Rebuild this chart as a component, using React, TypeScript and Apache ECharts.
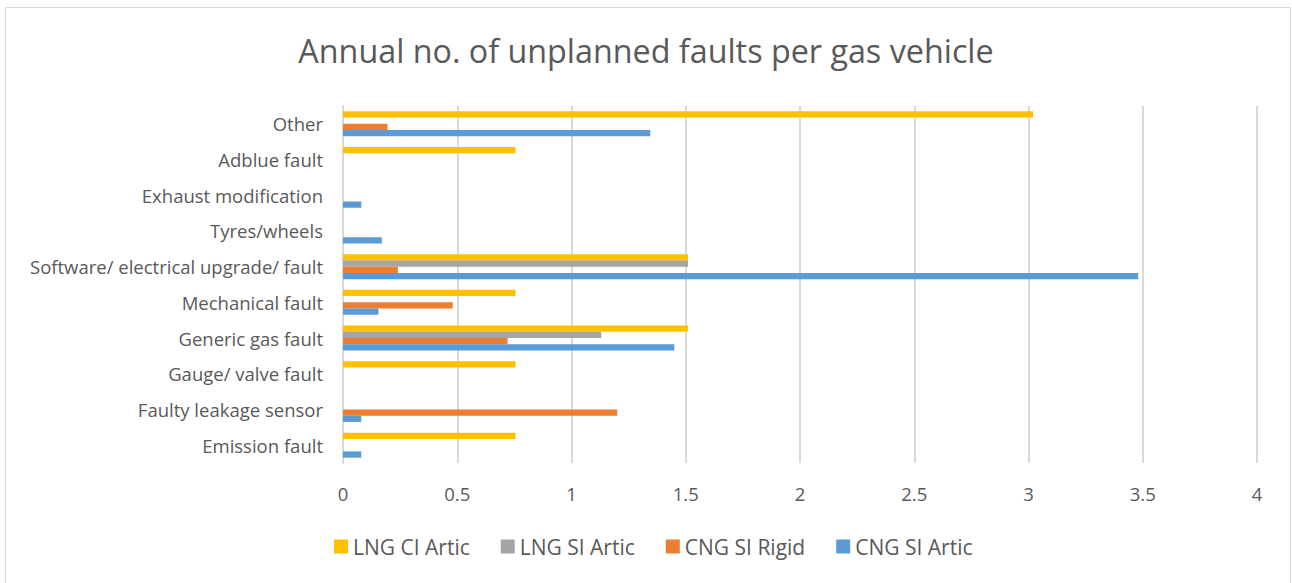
import React, { useEffect, useRef } from "react";
import * as echarts from "echarts";

const categories = [
  "Emission fault",
  "Faulty leakage sensor",
  "Gauge/ valve fault",
  "Generic gas fault",
  "Mechanical fault",
  "Software/ electrical upgrade/ fault",
  "Tyres/wheels",
  "Exhaust modification",
  "Adblue fault",
  "Other",
];

const lngCiArtic = [0.755, 0, 0.755, 1.51, 0.755, 1.51, 0, 0, 0.755, 3.02];
const lngSiArtic = [0, 0, 0, 1.13, 0, 1.51, 0, 0, 0, 0];
const cngSiRigid = [0, 1.2, 0, 0.72, 0.48, 0.24, 0, 0, 0, 0.195];
const cngSiArtic = [0.08, 0.08, 0, 1.45, 0.155, 3.48, 0.17, 0.08, 0, 1.345];

const seriesNames = ["LNG CI Artic", "LNG SI Artic", "CNG SI Rigid", "CNG SI Artic"];
const seriesColors = ["#FFC000", "#A5A5A5", "#ED7D31", "#5B9BD5"];
const seriesData = [lngCiArtic, lngSiArtic, cngSiRigid, cngSiArtic];

const FONT = "Open Sans";

export default function App() {
  const ref = useRef<HTMLDivElement>(null);
  useEffect(() => {
    if (!ref.current) return;
    const chart = echarts.init(ref.current, null, { renderer: "svg" });
    chart.setOption({
      animation: false,
      backgroundColor: "#ffffff",
      title: {
        text: "Annual no. of unplanned faults per gas vehicle",
        left: "center",
        top: 29,
        textStyle: { fontFamily: FONT, fontSize: 32.3, fontWeight: "normal", color: "#595959" },
      },
      graphic: [
        {
          type: "rect",
          shape: { x: 5.5, y: 7.5, width: 1285, height: 600 },
          style: { fill: "none", stroke: "#d9d9d9", lineWidth: 1 },
          silent: true,
        },
      ],
      legend: {
        data: seriesNames,
        left: 329,
        top: 531,
        itemWidth: 14,
        itemHeight: 14,
        itemGap: 31,
        icon: "rect",
        textStyle: { fontFamily: FONT, fontSize: 21, color: "#595959", padding: [0, 0, 0, 0] },
      },
      grid: { left: 343, right: 35, top: 106, bottom: 120, containLabel: false },
      xAxis: {
        type: "value",
        min: 0,
        max: 4,
        interval: 0.5,
        axisLine: { show: false },
        axisTick: { show: false },
        splitLine: { show: true, lineStyle: { color: "#d9d9d9", width: 2 } },
        axisLabel: { fontFamily: FONT, fontSize: 18.5, color: "#595959", margin: 21 },
      },
      yAxis: {
        type: "category",
        data: categories,
        axisLine: { show: true, lineStyle: { color: "#d9d9d9", width: 2 } },
        axisTick: { show: false },
        axisLabel: { fontFamily: FONT, fontSize: 18.5, color: "#595959", margin: 20 },
      },
      series: seriesNames.map((name, i) => ({
        name,
        type: "bar",
        data: seriesData[i],
        itemStyle: { color: seriesColors[i] },
        barGap: "0%",
        barCategoryGap: "30%",
      })),
    });
    return () => chart.dispose();
  }, []);
  return (
    <div
      ref={ref}
      style={{ position: "fixed", left: 0, top: 0, width: 1292, height: 583 }}
    />
  );
}
